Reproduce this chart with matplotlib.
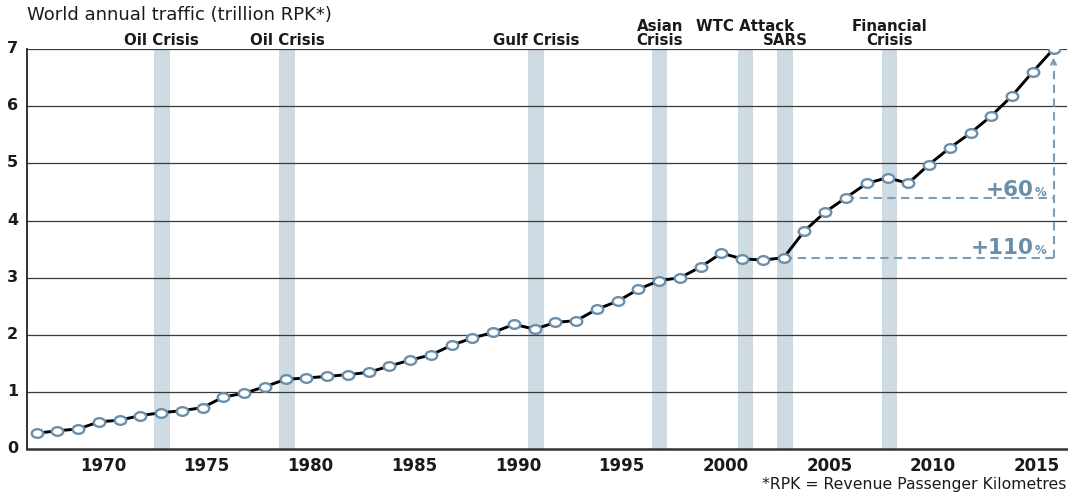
import numpy as np
import matplotlib
matplotlib.use("Agg")
import matplotlib.pyplot as plt
from matplotlib.path import Path
from matplotlib.transforms import Affine2D, ScaledTranslation

# ---------------- data ----------------
years = list(range(1967, 2017))
rpk = [0.28, 0.325, 0.355, 0.48, 0.51, 0.59, 0.64, 0.675, 0.73, 0.915,
       0.98, 1.095, 1.224, 1.247, 1.276, 1.305, 1.346, 1.456, 1.56, 1.65,
       1.82, 1.946, 2.045, 2.185, 2.10, 2.22, 2.25, 2.45, 2.59, 2.80,
       2.95, 3.00, 3.19, 3.43, 3.33, 3.31, 3.35, 3.82, 4.15, 4.40,
       4.65, 4.75, 4.65, 4.98, 5.27, 5.53, 5.83, 6.18, 6.60, 7.00]

crisis_start = [1972.65, 1978.69, 1990.69, 1996.67, 2000.78, 2002.69, 2007.72]
crisis_end = [1973.42, 1979.45, 1991.45, 1997.39, 2001.51, 2003.43, 2008.47]
crisis_labels = ["Oil Crisis", "Oil Crisis", "Gulf Crisis", "Asian\nCrisis",
                 "WTC Attack", "SARS", "Financial\nCrisis"]
crisis_row = [0, 0, 0, 0, 1, 0, 0]   # 0 = lowest text line, 1 = one line higher

xticks = [1970, 1975, 1980, 1985, 1990, 1995, 2000, 2005, 2010, 2015]
yticks = [0, 1, 2, 3, 4, 5, 6, 7]

growth_from_years = [2006, 2003]
growth_labels = ["+60", "+110"]
end_year = 2016

# ---------------- style ----------------
BAND = "#cfdbe2"
MARK = "#6a8fab"
ANNO = "#6b8ea8"
DASH = "#7d9db5"

W, H = 1068, 493
fig = plt.figure(figsize=(W / 100, H / 100), dpi=100)
left_px, right_px, top_px, bot_px = 26.7, 1067, 49, 449.3
ax = fig.add_axes([left_px / W, 1 - bot_px / H,
                   (right_px - left_px) / W, (bot_px - top_px) / H])

ax.set_xlim(1966.518, 2016.65)
ax.set_ylim(0, 7)

# crisis bands
for s, e in zip(crisis_start, crisis_end):
    ax.axvspan(s, e, color=BAND, lw=0, zorder=1)

# grid lines
for yv in yticks[1:]:
    ax.axhline(yv, color="#3a3a3a", lw=0.9, zorder=2)

# growth dashed guides
idx = {y: i for i, y in enumerate(years)}
end_val = rpk[idx[end_year]]
low_val = min(rpk[idx[y]] for y in growth_from_years)
for gy in growth_from_years:
    v = rpk[idx[gy]]
    ax.plot([gy, end_year], [v, v], color=DASH, lw=1.5, dashes=(4, 2.6), zorder=3)
ax.plot([end_year, end_year], [low_val, end_val - 0.2], color=DASH, lw=1.5,
        dashes=(4, 2.6), zorder=3)
ax.annotate("", xy=(end_year, end_val - 0.1), xytext=(end_year, end_val - 0.3),
            arrowprops=dict(arrowstyle="->", color=DASH, lw=1.5,
                            mutation_scale=9), zorder=3)

# main line + markers
ell = Path.unit_circle().transformed(Affine2D().scale(1.0, 0.75))
ax.plot(years, rpk, color="black", lw=2.1, zorder=4)
ax.plot(years, rpk, linestyle="none", marker=ell, markersize=8.3,
        markerfacecolor="white", markeredgecolor=MARK, markeredgewidth=1.7,
        zorder=5)

# growth labels
txt_off = [1.2, 3.0]
for gy, lab, dy in zip(growth_from_years, growth_labels, txt_off):
    v = rpk[idx[gy]]
    ax.annotate("%", xy=(end_year, v), xytext=(-4.8, dy), textcoords="offset points",
                ha="right", va="baseline", fontsize=8.5, fontweight="bold",
                color=ANNO, family="DejaVu Sans", zorder=6)
    ax.annotate(lab, xy=(end_year, v), xytext=(-14.3, dy), textcoords="offset points",
                ha="right", va="baseline", fontsize=15.5, fontweight="bold",
                color=ANNO, family="DejaVu Sans", zorder=6)

# crisis labels above the plot
for s, e, lab, row in zip(crisis_start, crisis_end, crisis_labels, crisis_row):
    cx = (s + e) / 2
    lines = lab.split("\n")
    for k, line in enumerate(reversed(lines)):
        lvl = row + k
        ax.annotate(line, xy=(cx, 1), xycoords=("data", "axes fraction"),
                    xytext=(0, 2.9 + 10.4 * lvl), textcoords="offset points",
                    ha="center", va="baseline", fontsize=10.8, fontweight="bold",
                    color="#1a1a1a", family="DejaVu Sans", annotation_clip=False)

# axes styling
for sp in ["top", "right"]:
    ax.spines[sp].set_visible(False)
ax.spines["left"].set_linewidth(1.3)
ax.spines["left"].set_color("#222222")
ax.spines["bottom"].set_linewidth(1.8)
ax.spines["bottom"].set_color("#333333")
ax.spines["left"].set_zorder(6)
ax.spines["bottom"].set_zorder(6)

ax.set_xticks(xticks)
ax.set_xticklabels([str(t) for t in xticks], fontsize=12, fontweight="bold",
                   family="DejaVu Sans", color="#1a1a1a")
ax.set_yticks(yticks)
ax.set_yticklabels([str(t) for t in yticks], fontsize=11.5, fontweight="bold",
                   family="DejaVu Sans", color="#1a1a1a")
ax.tick_params(axis="x", length=0, pad=5.5)
ax.tick_params(axis="y", length=0, pad=6)
shift = ScaledTranslation(4 / 100, 0, fig.dpi_scale_trans)
for lbl in ax.get_xticklabels():
    lbl.set_transform(lbl.get_transform() + shift)
yshift = ScaledTranslation(0, 2 / 100, fig.dpi_scale_trans)
for lbl in ax.get_yticklabels():
    lbl.set_transform(lbl.get_transform() + yshift)

fig.text(left_px / W, 1 - 20 / H, "World annual traffic (trillion RPK*)",
         ha="left", va="baseline", fontsize=13, color="#1a1a1a", family="DejaVu Sans")
fig.text(1066 / W, 1 - 488.5 / H, "*RPK = Revenue Passenger Kilometres",
         ha="right", va="baseline", fontsize=11.3, color="#1a1a1a", family="DejaVu Sans")

fig.savefig("out.png", dpi=100)
